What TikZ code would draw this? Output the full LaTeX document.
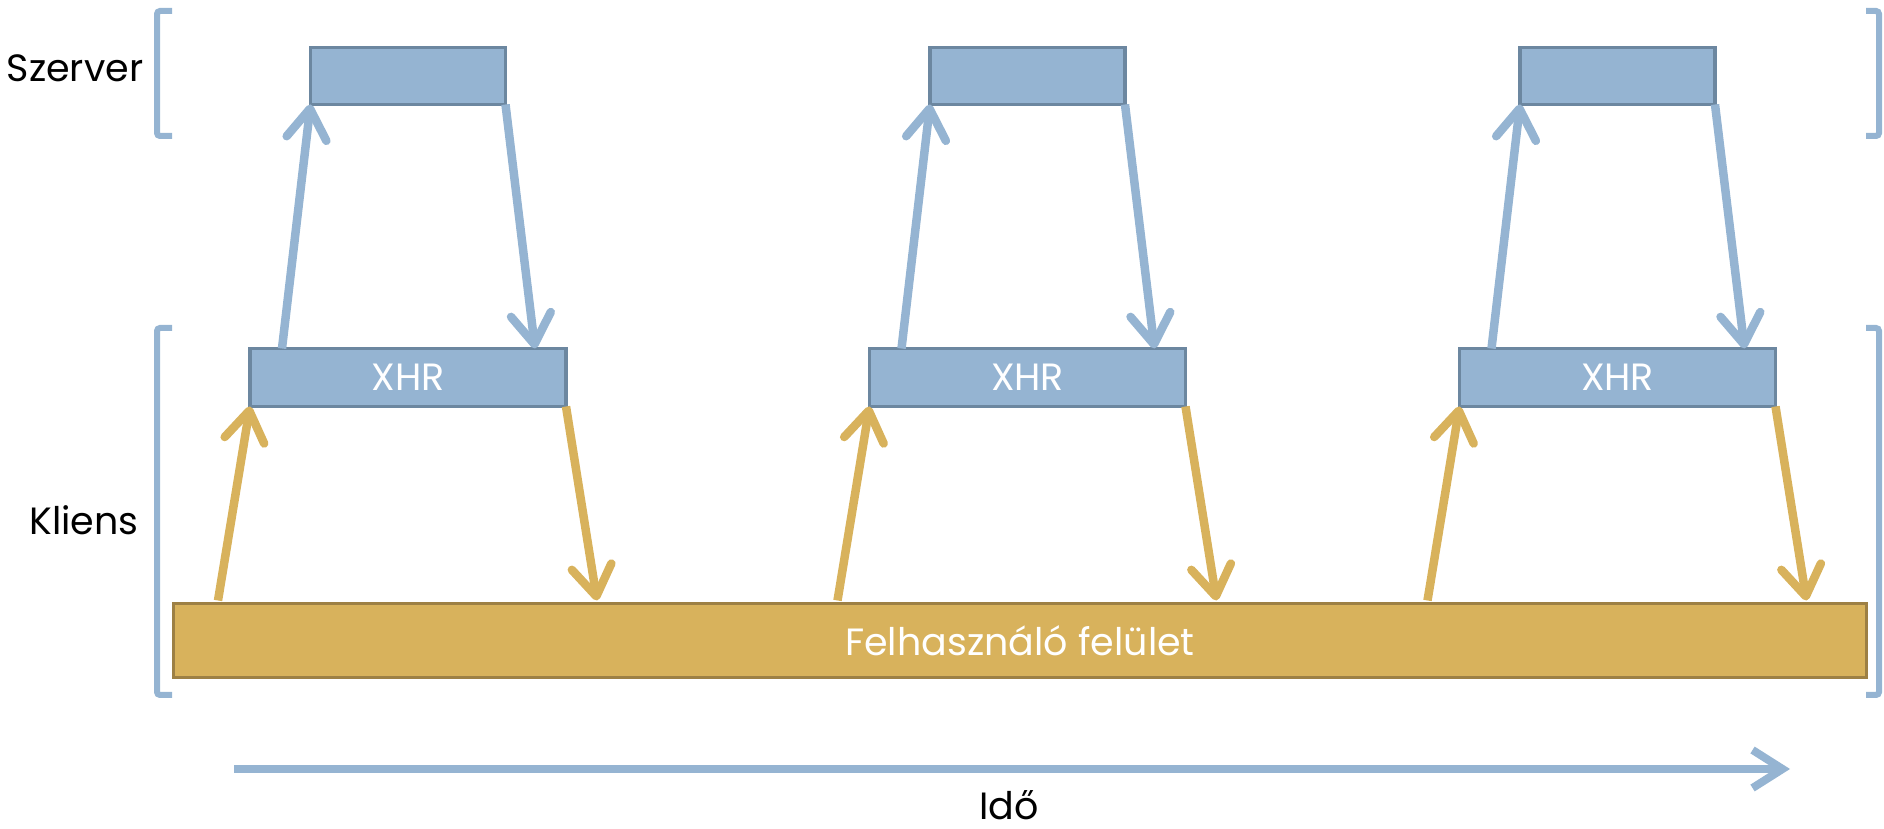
\documentclass[tikz,border=0pt]{standalone}
\usepackage{fontspec}
\setmainfont{Poppins}
\usetikzlibrary{positioning,arrows.meta}

\definecolor{srvblue}{RGB}{149,180,210}
\definecolor{srvedge}{RGB}{108,135,160}
\definecolor{uigold}{RGB}{216,178,92}
\definecolor{uiedge}{RGB}{157,128,68}

\begin{document}
\begin{tikzpicture}[x=1pt, y=1pt,
        box/.style={rectangle, draw=srvedge, fill=srvblue, line width=3.5pt, inner sep=0pt, outer sep=0pt},
        xhr/.style={box, minimum width=316pt, minimum height=58pt, text=white, font=\fontsize{38}{44}\selectfont},
        srv/.style={box, minimum width=195pt, minimum height=57pt},
        rowname/.style={font=\fontsize{38}{44}\selectfont, inner sep=0pt, anchor=base},
        msg/.style={line width=8.5pt, -{Straight Barb[length=30pt, width=40pt, round]}},
        bracket/.style={draw=srvblue, line width=6pt, rounded corners=3pt}]
        \useasboundingbox (0,0) rectangle (1884,829);

        \node[xhr](xhr1) at (408,451.5) {XHR};
        \node[xhr](xhr2) at (1027.5,451.5) {XHR};
        \node[xhr](xhr3) at (1617.5,451.5) {XHR};
        \node[srv](srv1) [above=244pt of xhr1] {};
        \node[srv](srv2) [above=244pt of xhr2] {};
        \node[srv](srv3) [above=244pt of xhr3] {};
        \node[box, draw=uiedge, fill=uigold, minimum width=1693pt, minimum height=74pt,
            text=white, font=\fontsize{38}{44}\selectfont](ui) at (1020,188.5) {Felhasználó felület};

        \node[rowname](srvname) at (75,747) {Szerver};
        \node[rowname](cliname) at (84,294) {Kliens};
        \node[rowname](timename) at (1009,9) {Idő};

        % requests up, responses down
        \foreach \i in {1,2,3} {
            \draw[msg, srvblue] ([xshift=32pt]xhr\i.north west) -- (srv\i.south west);
            \draw[msg, srvblue] (srv\i.south east) -- ([xshift=-31pt]xhr\i.north east);
            \draw[msg, uigold] ([shift={(-32pt,-194pt)}]xhr\i.south west) -- (xhr\i.south west);
            \draw[msg, uigold] (xhr\i.south east) -- ([shift={(31pt,-194pt)}]xhr\i.south east);
        }

        % brackets
        \draw[bracket] (172,818) -- (157,818) -- (157,693) -- (172,693);
        \draw[bracket] (172,501) -- (157,501) -- (157,134) -- (172,134);
        \draw[bracket] (1866,818) -- (1879,818) -- (1879,693) -- (1866,693);
        \draw[bracket] (1866,501) -- (1879,501) -- (1879,134) -- (1866,134);

        % time axis
        \coordinate (t0) at (234,60);
        \coordinate (t1) at (1790,60);
        \draw[line width=8pt, srvblue, -{Straight Barb[length=30pt, width=38pt]}] (t0) -- (t1);
    \end{tikzpicture}
\end{document}
